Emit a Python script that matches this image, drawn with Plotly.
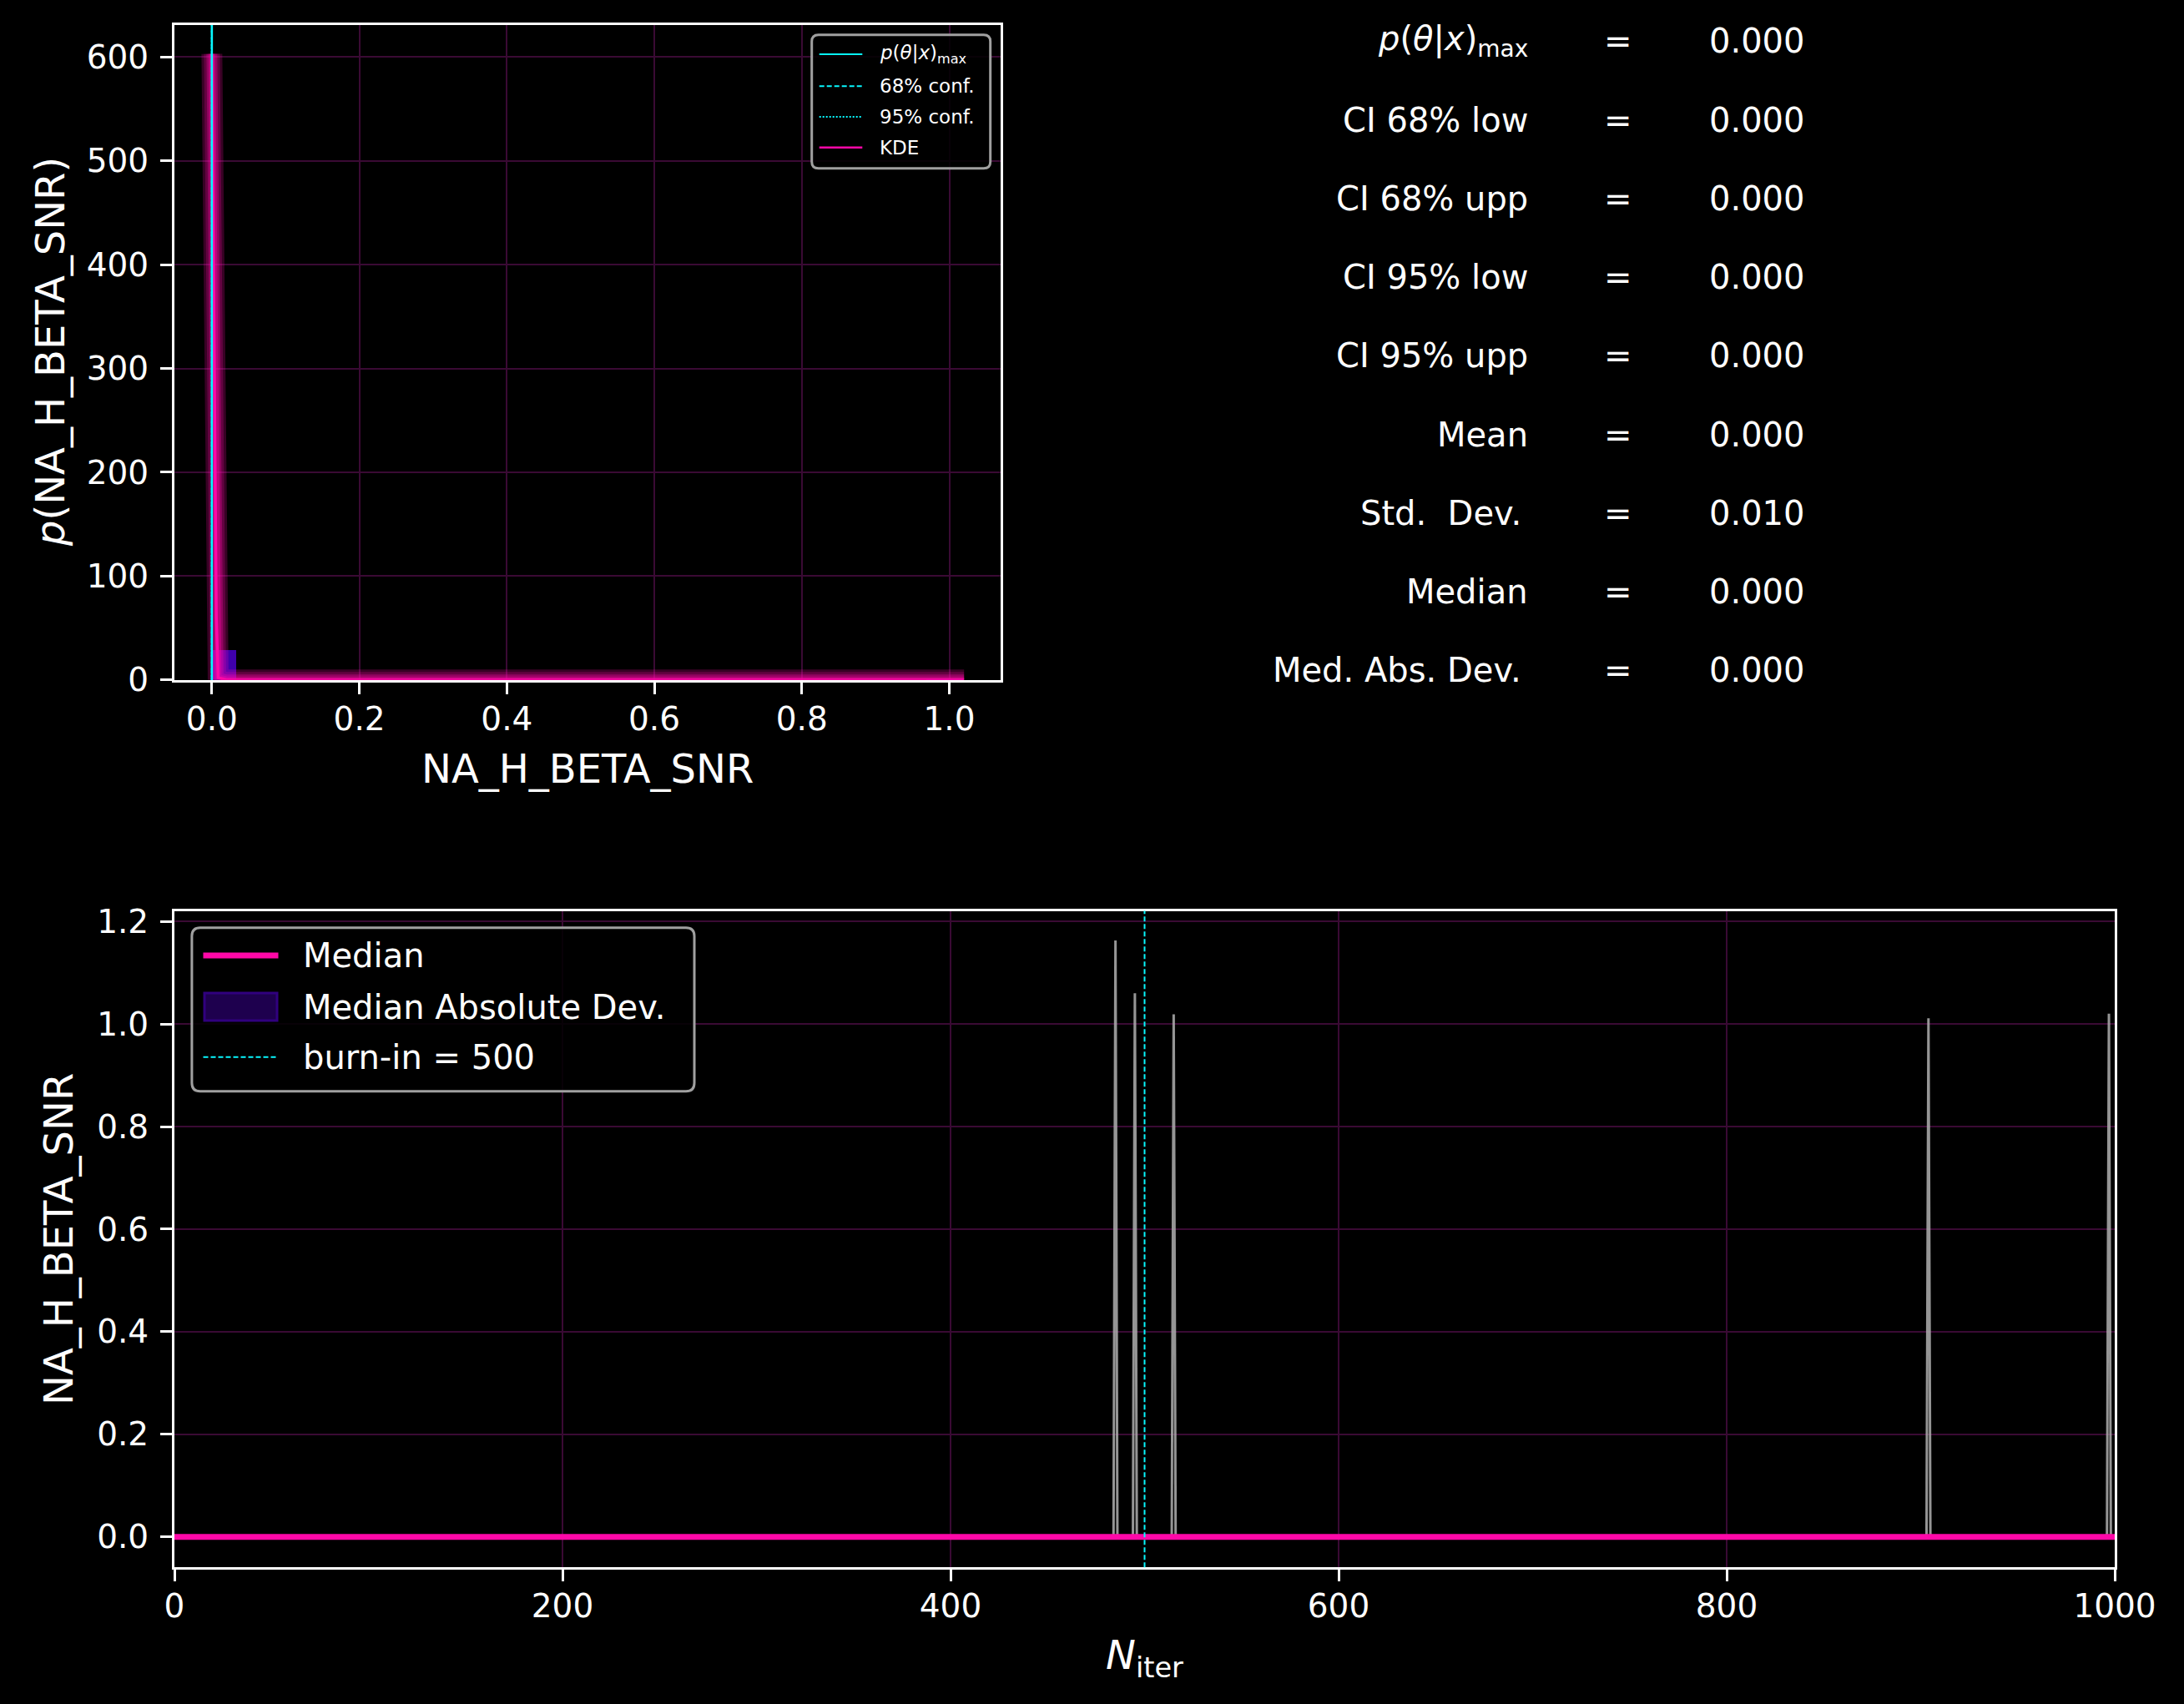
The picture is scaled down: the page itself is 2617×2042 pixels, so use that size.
import plotly.graph_objects as go

W, H = 2617, 2042

# ---------------- data ----------------
param = "NA_H_BETA_SNR"

# KDE of the post-burn-in samples (top panel)
kde_x = [0.0, 0.003, 0.006, 0.0085, 0.02, 0.2, 0.4, 0.6, 0.8, 1.0, 1.02]
kde_y = [603.0, 330.0, 60.0, 2.0, 0.0, 0.0, 0.0, 0.0, 0.0, 0.0, 0.0]

# histogram (density) of post-burn-in samples
hist_centers = [0.0164, 0.9856, 1.0020]
hist_heights = [29.0, 0.05, 0.05]
hist_width = 0.0328

# summary statistics
p_max = 0.0
ci68 = [0.0, 0.0]
ci95 = [0.0, 0.0]
stat_labels = ["<i>p</i>(<i>θ</i>|<i>x</i>)<sub>max</sub>", "CI 68% low", "CI 68% upp",
               "CI 95% low", "CI 95% upp", "Mean", "Std.  Dev.\u2009", "Median",
               "Med. Abs. Dev.\u2009"]
stat_values = [0.000, 0.000, 0.000, 0.000, 0.000, 0.000, 0.010, 0.000, 0.000]

# walker chains (bottom panel): zero except single-iteration excursions
spike_iter = [485, 495, 515, 904, 997]
spike_val = [1.163, 1.060, 1.019, 1.011, 1.020]

# median and median absolute deviation across walkers
median_iter = [0, 1000]
median_val = [0.0, 0.0]
mad_val = [0.0, 0.0]
burn_in = 500

# ---------------- styling ----------------
MAG = "#ff08a8"
CYAN = "#08f7fe"
PURPLE = "#4200b4"
GRID = "#3a0a34"
FONT = "DejaVu Sans"

def px_x(x):
    return x / W

def px_y(y):
    return 1 - y / H

fig = go.Figure()

# histogram bars
fig.add_trace(go.Bar(x=hist_centers, y=hist_heights, width=hist_width,
                     marker=dict(color=PURPLE, line=dict(width=0)), opacity=0.95,
                     xaxis="x", yaxis="y", showlegend=False))

# KDE with glow
for wdt, a in [(25, 0.22), (19, 0.22), (13, 0.3), (8, 0.35)]:
    fig.add_trace(go.Scatter(x=kde_x, y=kde_y, mode="lines",
                             line=dict(color=f"rgba(255,8,168,{a})", width=wdt),
                             xaxis="x", yaxis="y", showlegend=False, hoverinfo="skip"))
fig.add_trace(go.Scatter(x=kde_x, y=kde_y, mode="lines", line=dict(color=MAG, width=3.5),
                         xaxis="x", yaxis="y", showlegend=False))

# chains
for it, v in zip(spike_iter, spike_val):
    fig.add_trace(go.Scatter(x=[0, it - 1, it, it + 1, 1000], y=[0, 0, v, 0, 0], mode="lines",
                             line=dict(color="rgba(175,175,175,0.85)", width=3),
                             xaxis="x2", yaxis="y2", showlegend=False))

# MAD band
fig.add_trace(go.Scatter(x=median_iter, y=[m - d for m, d in zip(median_val, mad_val)],
                         mode="lines", line=dict(width=0), xaxis="x2", yaxis="y2", showlegend=False))
fig.add_trace(go.Scatter(x=median_iter, y=[m + d for m, d in zip(median_val, mad_val)],
                         mode="lines", line=dict(width=0), fill="tonexty",
                         fillcolor="rgba(60,0,160,0.4)", xaxis="x2", yaxis="y2", showlegend=False))
# median
fig.add_trace(go.Scatter(x=median_iter, y=median_val, mode="lines", line=dict(color=MAG, width=7),
                         xaxis="x2", yaxis="y2", showlegend=False))

# vertical markers in top panel
fig.add_shape(type="line", xref="x", yref="y domain", x0=p_max, x1=p_max, y0=0, y1=1,
              line=dict(color=CYAN, width=2.5), layer="above")
for v in ci68:
    fig.add_shape(type="line", xref="x", yref="y domain", x0=v, x1=v, y0=0, y1=1,
                  line=dict(color=CYAN, width=2, dash="6px,3px"), layer="above")
for v in ci95:
    fig.add_shape(type="line", xref="x", yref="y domain", x0=v, x1=v, y0=0, y1=1,
                  line=dict(color=CYAN, width=2, dash="2px,2px"), layer="above")
# burn-in line
fig.add_shape(type="line", xref="x2", yref="y2 domain", x0=burn_in, x1=burn_in, y0=0, y1=1,
              line=dict(color=CYAN, width=2, dash="6px,3px"), layer="above")

axis_common = dict(showgrid=True, gridcolor=GRID, gridwidth=2, zeroline=False,
                   showline=True, linecolor="white", linewidth=3, mirror=True,
                   ticks="outside", ticklen=14, tickwidth=3, tickcolor="white", automargin=False,
                   tickfont=dict(family=FONT, size=39, color="white"))

fig.update_layout(
    width=W, height=H, margin=dict(l=0, r=0, t=0, b=0, pad=0), autosize=False,
    paper_bgcolor="black", plot_bgcolor="black", showlegend=False, bargap=0,
    xaxis=dict(domain=[px_x(209), px_x(1198.5)], range=[-0.0508, 1.069], anchor="y",
               tickvals=[0, 0.2, 0.4, 0.6, 0.8, 1.0], tickformat=".1f",
               ticklabelstandoff=-4, **axis_common),
    yaxis=dict(domain=[px_y(814.7), px_y(30)], range=[0, 630.8], anchor="x",
               tickvals=[0, 100, 200, 300, 400, 500, 600], ticklabelstandoff=6, **axis_common),
    xaxis2=dict(domain=[px_x(209), px_x(2534)], range=[0, 1000], anchor="y2",
                tickvals=[0, 200, 400, 600, 800, 1000], ticklabelstandoff=-4, **axis_common),
    yaxis2=dict(domain=[px_y(1878.3), px_y(1091.5)], range=[-0.0596, 1.2206], anchor="x2",
                tickvals=[0, 0.2, 0.4, 0.6, 0.8, 1.0, 1.2], tickformat=".1f",
                ticklabelstandoff=6, **axis_common),
)

ann = []
def text(x, y, s, size, xanchor="center", yanchor="middle", angle=0):
    ann.append(dict(x=px_x(x), y=px_y(y), xref="paper", yref="paper", text=s, showarrow=False,
                    xanchor=xanchor, yanchor=yanchor, textangle=angle,
                    font=dict(family=FONT, size=size, color="white")))

# axis titles
text(703.7, 921, param, 48)
text(60, 422, f"<i>p</i>({param})", 48, angle=-90)
text(70, 1485, param, 48, angle=-90)
text(1371.5, 1986, "<i>N</i><sub>iter</sub>", 48)

# stats
for k, (lab, val) in enumerate(zip(stat_labels, stat_values)):
    y = 49.5 + 94.2 * k
    text(1833, y, lab, 40, xanchor="right")
    text(1938.8, y, "=", 40)
    text(2046, y, f"{val:.3f}", 40, xanchor="left")

shapes = []
def rrect(x0, y0, x1, y1, r, color, width):
    X0, X1 = px_x(x0), px_x(x1)
    Y0, Y1 = px_y(y0), px_y(y1)
    rx, ry = r / W, r / H
    p = (f"M {X0+rx},{Y0} L {X1-rx},{Y0} Q {X1},{Y0} {X1},{Y0-ry} "
         f"L {X1},{Y1+ry} Q {X1},{Y1} {X1-rx},{Y1} L {X0+rx},{Y1} Q {X0},{Y1} {X0},{Y1+ry} "
         f"L {X0},{Y0-ry} Q {X0},{Y0} {X0+rx},{Y0} Z")
    shapes.append(dict(type="path", xref="paper", yref="paper", path=p,
                       line=dict(color=color, width=width), fillcolor="rgba(0,0,0,0.85)",
                       layer="above"))

def seg(x0, x1, y, color, width, dash="solid"):
    shapes.append(dict(type="line", xref="paper", yref="paper", x0=px_x(x0), x1=px_x(x1),
                       y0=px_y(y), y1=px_y(y), line=dict(color=color, width=width, dash=dash),
                       layer="above"))

# top legend
rrect(972.7, 41.7, 1186.7, 201.7, 8, "#a0a0a0", 3)
leg_rows = [65, 103.3, 140, 176.7]
seg(981.7, 1033.3, leg_rows[0], CYAN, 2)
seg(981.7, 1033.3, leg_rows[1], CYAN, 2, "6px,3px")
seg(981.7, 1033.3, leg_rows[2], CYAN, 2, "2px,2px")
seg(981.7, 1033.3, leg_rows[3], MAG, 2.5)
for y, s in zip(leg_rows, ["<i>p</i>(<i>θ</i>|<i>x</i>)<sub>max</sub>", "68% conf.", "95% conf.", "KDE"]):
    text(1052, y, s, 23, xanchor="left")

# bottom legend
rrect(229.9, 1111.7, 832, 1307.7, 10, "#a0a0a0", 3)
seg(243.5, 333.5, 1145, MAG, 7)
shapes.append(dict(type="rect", xref="paper", yref="paper", x0=px_x(245), x1=px_x(332),
                   y0=px_y(1223), y1=px_y(1190), fillcolor="#1e004e",
                   line=dict(color="#30007e", width=3), layer="above"))
seg(243.5, 333.5, 1266.7, CYAN, 2, "6px,3px")
text(361, 1145, "Median", 40, xanchor="left")
text(361, 1206.7, "Median Absolute Dev.", 40, xanchor="left")
text(361, 1266.7, f"burn-in = {burn_in}", 40, xanchor="left")

fig.update_layout(annotations=ann, shapes=list(fig.layout.shapes) + shapes)
fig.write_html("out.html")
